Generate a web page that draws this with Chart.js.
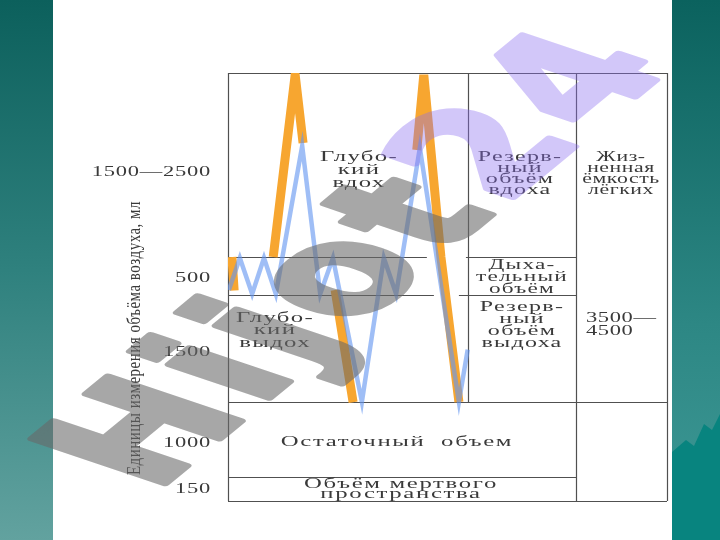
<!DOCTYPE html>
<html>
<head>
<meta charset="utf-8">
<script src="https://cdn.jsdelivr.net/npm/chart.js@4"></script>
<style>
html, body { margin: 0; padding: 0; background: #fff; }
canvas { display: block; }
</style>
</head>
<body>
<canvas id="spiro" width="720" height="540"></canvas>
<script>
// spirogram, time in arbitrary units (0..100), volume in ml above end of a quiet exhale
const blueTime = [0.2, 2.7, 5.5, 8.2, 10.9, 16.9, 21.0, 23.9, 30.5, 35.5, 38.3, 43.7, 52.6, 54.6];
const blueVolume = [66, 487, 13, 487, 13, 1960, 13, 487, -1407, 487, 13, 1934, -1407, -720];

// simplified curve, null = break in the line
const orangeTime = [0.9, 1.4, 1.4, 10.3, 15.3, 17.1, 17.1, 24.4, 28.5, 28.5, 43.0, 44.6, 48.5, 52.6];
const orangeVolume = [500, 60, null, 500, 2895, 2000, null, 66, -1410, null, 1907, 2895, 500, -1407];

// table rules: volume levels and column borders
const levelTop = 2920, levelTidal = 500, levelRest = 0, levelMaxExhale = -1410, levelResidual = -2400, levelBottom = -2710;
const colCurve = 0, colReserve = 54.7, colVital = 79.3, colEnd = 100;
const hRules = [
	[levelTop, colCurve, colEnd],
	[levelTidal, colCurve, 45.3], [levelTidal, 54.2, colVital],
	[levelRest, colCurve, 46.9], [levelRest, 52.6, colVital],
	[levelMaxExhale, colCurve, colEnd],
	[levelResidual, colCurve, colVital],
	[levelBottom, colCurve, colEnd]
];
const vRules = [
	[colCurve, levelBottom, levelTop],
	[colReserve, levelMaxExhale, levelTop],
	[colVital, levelBottom, levelTop],
	[colEnd, levelBottom, levelTop]
];

// texts
const sideLabels = ['1500—2500', '500', '1500', '1000', '150'];
const axisTitle = 'Единицы измерения объёма воздуха, мл';
const deepInhale = ['Глубо-', 'кий', 'вдох'];
const deepExhale = ['Глубо-', 'кий', 'выдох'];
const inhaleReserve = ['Резерв-', 'ный', 'объём', 'вдоха'];
const tidalVolume = ['Дыха-', 'тельный', 'объём'];
const exhaleReserve = ['Резерв-', 'ный', 'объём', 'выдоха'];
const vitalCapacity = ['Жиз-', 'ненная', 'ёмкость', 'лёгких'];
const vitalValue = ['3500—', '4500'];
const residualVolume = ['Остаточный  объем'];
const deadSpace = ['Объём мертвого', 'пространства'];
const watermarkA = 'Hijot', watermarkB = '24';

function wideText(c, s, x, y, sx, align)
{
	c.save();
	c.translate(x, y);
	c.scale(sx, 1);
	c.textAlign = align;
	c.fillText(s, 0, 0);
	c.restore();
}

function block(c, lines, x, y, step, align, sx = 1.65)
{
	lines.forEach((s, i) => wideText(c, s, x, y + i * step, sx, align));
}

// watermark word drawn opaque off screen, then laid over with transparency
function stamp(c, text, before, color, alpha)
{
	const off = document.createElement('canvas');
	off.width = 720;
	off.height = 540;
	const o = off.getContext('2d');
	o.font = 'bold 114px "DejaVu Sans"';
	o.letterSpacing = '7px';
	o.textBaseline = 'middle';
	o.textAlign = 'left';
	o.lineJoin = 'round';
	o.lineWidth = 5;
	o.translate(370, 260);
	o.scale(1.9, 1);
	o.rotate(-57.4 * Math.PI / 180);
	const w = o.measureText(watermarkA + watermarkB).width;
	const x0 = -w / 2 + (before ? o.measureText(before).width : 0);
	o.fillStyle = color;
	o.strokeStyle = color;
	o.fillText(text, x0, 0);
	o.strokeText(text, x0, 0);
	c.save();
	c.globalAlpha = alpha;
	c.drawImage(off, 0, 0);
	c.restore();
}

const decor = {
	id: 'decor',
	beforeDraw(chart)
	{
		const c = chart.ctx;
		c.save();
		c.fillStyle = '#fff';
		c.fillRect(0, 0, 720, 540);
		let g = c.createLinearGradient(0, 0, 0, 540);
		g.addColorStop(0, '#0c605c');
		g.addColorStop(0.5, '#2f817e');
		g.addColorStop(1, '#62a29f');
		c.fillStyle = g;
		c.fillRect(0, 0, 53, 540);
		g = c.createLinearGradient(0, 0, 0, 540);
		g.addColorStop(0, '#0b625e');
		g.addColorStop(0.6, '#2d8784');
		g.addColorStop(1, '#3f9a97');
		c.fillStyle = g;
		c.fillRect(672, 0, 48, 540);
		c.fillStyle = '#08847f';
		c.beginPath();
		c.moveTo(672, 540);
		c.lineTo(672, 452);
		c.lineTo(686, 440);
		c.lineTo(694, 446);
		c.lineTo(704, 424);
		c.lineTo(712, 430);
		c.lineTo(720, 414);
		c.lineTo(720, 540);
		c.fill();
		c.restore();
	},
	beforeDatasetsDraw(chart)
	{
		const c = chart.ctx;
		const xs = chart.scales.x, ys = chart.scales.y;
		c.save();
		c.strokeStyle = '#505050';
		c.lineWidth = 1.2;
		c.beginPath();
		hRules.forEach(([v, t0, t1]) => {
			const y = Math.round(ys.getPixelForValue(v)) + 0.5;
			c.moveTo(xs.getPixelForValue(t0), y);
			c.lineTo(xs.getPixelForValue(t1), y);
		});
		vRules.forEach(([t, v0, v1]) => {
			const x = Math.round(xs.getPixelForValue(t)) + 0.5;
			c.moveTo(x, ys.getPixelForValue(v0));
			c.lineTo(x, ys.getPixelForValue(v1));
		});
		c.stroke();

		c.fillStyle = '#3a3a3a';
		c.textBaseline = 'middle';
		c.letterSpacing = '0.5px';
		c.font = '15px "Liberation Serif"';
		const sideY = [172, 278, 352, 443, 489];
		sideLabels.forEach((s, i) => wideText(c, s, 211, sideY[i], 1.5, 'right'));

		c.save();
		c.translate(135, 338);
		c.scale(1.2, 1);
		c.rotate(-Math.PI / 2);
		c.textAlign = 'center';
		c.fillText(axisTitle, 0, 0);
		c.restore();

		c.letterSpacing = '0.8px';
		c.font = '15px "Liberation Serif"';
		block(c, deepInhale, 359, 157, 13, 'center');
		block(c, deepExhale, 275, 318, 12.5, 'center');
		block(c, inhaleReserve, 520, 157, 11, 'center', 1.6);
		block(c, tidalVolume, 522, 265, 12, 'center', 1.55);
		block(c, exhaleReserve, 522, 307, 12, 'center', 1.6);
		c.letterSpacing = '0.4px';
		block(c, vitalCapacity, 621, 157, 11, 'center', 1.45);
		block(c, vitalValue, 586, 318, 13, 'left', 1.5);
		c.letterSpacing = '1px';
		block(c, residualVolume, 397, 442, 12, 'center');
		block(c, deadSpace, 401, 484, 10.5, 'center');
		c.restore();
	},
	afterDraw(chart)
	{
		stamp(chart.ctx, watermarkA, '', 'rgb(105, 105, 105)', 0.58);
		stamp(chart.ctx, watermarkB, watermarkA, 'rgb(140, 110, 240)', 0.38);
	}
};

const ctx = document.getElementById('spiro').getContext('2d');
const chart = new Chart(ctx, {
	type: 'line',
	data: {
		datasets: [{
				label: 'Спирограмма',
				data: blueTime.map((t, i) => ({ x: t, y: blueVolume[i] })),
				borderColor: 'rgba(100, 150, 240, 0.62)',
				borderWidth: 4.5,
				pointRadius: 0,
				tension: 0
			},
			{
				label: 'Схема',
				data: orangeTime.map((t, i) => ({ x: t, y: orangeVolume[i] })),
				borderColor: 'rgb(247, 166, 48)',
				borderWidth: 9,
				pointRadius: 0,
				spanGaps: false,
				tension: 0
			}]
	},
	options: {
		responsive: false,
		animation: false,
		layout: { padding: { left: 228, right: 53, top: 73, bottom: 39 } },
		scales: {
			x: { type: 'linear', min: 0, max: 100, display: false },
			y: { min: -2710, max: 2920, display: false }
		},
		plugins: {
			legend: { display: false },
			tooltip: { enabled: false }
		}
	},
	plugins: [decor]
});
</script>
</body>
</html>
